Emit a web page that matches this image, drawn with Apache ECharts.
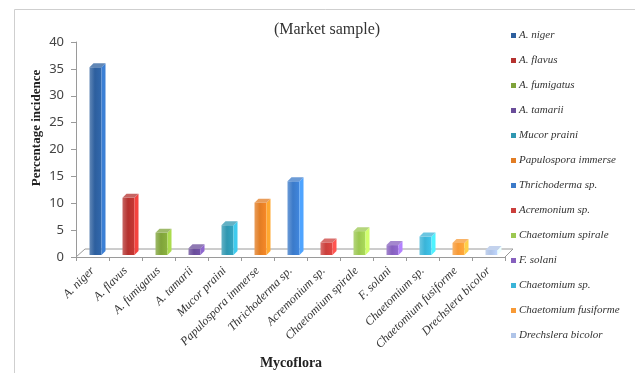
<!DOCTYPE html>
<html>
<head>
<meta charset="utf-8">
<script src="https://cdn.jsdelivr.net/npm/echarts@6/dist/echarts.min.js"></script>
<style>html,body{margin:0;padding:0;background:#fff;}#c{width:635px;height:373px;}</style>
</head>
<body>
<div id="c"></div>
<script>
const categories = ['A. niger','A. flavus','A. fumigatus','A. tamarii','Mucor praini','Papulospora immerse','Thrichoderma sp.','Acremonium sp.','Chaetomium spirale','F. solani','Chaetomium sp.','Chaetomium fusiforme','Drechslera bicolor'];
const values = [35.5, 11.2, 4.7, 1.8, 6.1, 10.3, 14.3, 2.9, 5.0, 2.4, 4.0, 2.8, 1.5];
const colors = ['#2D5F9E','#B5322F','#7FA33A','#6A4D9A','#2F97B1','#E27D24','#3B7AC9','#CB3F3C','#9CC851','#8660BE','#3AB4D8','#F89A36','#AFC4E8'];
const yTicks = [0, 5, 10, 15, 20, 25, 30, 35, 40];

const chart = echarts.init(document.getElementById('c'), null, {renderer:'canvas'});
const serif = 'Liberation Serif';

function barItem(params, api){
  const i = api.value(0), v = api.value(1);
  const p0 = api.coord([i, 0]);
  const p1 = api.coord([i, v]);
  const c = api.visual('color');
  const w = 12, d = 4;
  const x0 = p0[0] - 3;
  const yb = p0[1] - 2;
  let yt = Math.min(p1[1] + 1, yb - 2);
  const dark = echarts.color.lift(c, -0.35);
  const light = echarts.color.lift(c, 0.25);
  return {
    type:'group',
    children:[
      {type:'rect', shape:{x:x0, y:yt, width:w, height:yb-yt},
        style:{fill:new echarts.graphic.LinearGradient(0,0,1,0,[{offset:0,color:light},{offset:0.45,color:c},{offset:1,color:echarts.color.lift(c,-0.1)}])}},
      {type:'polygon', shape:{points:[[x0+w,yt],[x0+w+d,yt-d],[x0+w+d,yb-d],[x0+w,yb]]}, style:{fill:dark}},
      {type:'polygon', shape:{points:[[x0,yt],[x0+d,yt-d],[x0+w+d,yt-d],[x0+w,yt]]}, style:{fill:light}}
    ]
  };
}

function floorItem(params, api){
  const cs = params.coordSys;
  const yb = cs.y + cs.height;
  const ln = {stroke:'#9a9a9a', lineWidth:1};
  return {type:'group', silent:true, children:[
    {type:'line', shape:{x1:cs.x, y1:yb, x2:cs.x+9, y2:yb-8}, style:ln},
    {type:'line', shape:{x1:cs.x+9, y1:yb-8, x2:cs.x+cs.width+8, y2:yb-8}, style:ln},
    {type:'line', shape:{x1:cs.x+cs.width, y1:yb, x2:cs.x+cs.width+8, y2:yb-8}, style:ln}
  ]};
}

const series = [{
  type:'custom', name:'floor', data:[[0,0]], renderItem:floorItem, z:1, silent:true, legendHoverLink:false
}].concat(categories.map((name, i) => ({
  type:'custom', name:name, data:[[i, values[i]]], renderItem:barItem,
  itemStyle:{color:colors[i]}, z:2, encode:{x:0, y:1}
})));

chart.setOption({
  animation:false,
  backgroundColor:'#fff',
  grid:{left:76, right:130, top:42, bottom:116, containLabel:false},
  graphic:[
    {type:'rect', shape:{x:14.5, y:9.5, width:640, height:400}, style:{fill:'none', stroke:'#cfcfcf', lineWidth:1}, silent:true},
    {type:'text', style:{text:'(Market sample)', x:327, y:30, font:'16px "Liberation Serif"', fill:'#333', align:'center', verticalAlign:'middle'}},
    {type:'text', style:{text:'Percentage incidence', x:0, y:0, font:'bold 13px "Liberation Serif"', fill:'#222', align:'center', verticalAlign:'middle'}, x:37, y:128, rotation:Math.PI/2},
    {type:'text', style:{text:'Mycoflora', x:291, y:363, font:'bold 14px "Liberation Serif"', fill:'#222', align:'center', verticalAlign:'middle'}}
  ],
  legend:{
    orient:'vertical', left:511, top:30, padding:0, itemWidth:5, itemHeight:5, itemGap:14, icon:'rect',
    data:categories,
    textStyle:{fontFamily:serif, fontStyle:'italic', fontSize:11, color:'#333', padding:[0,0,0,-2]}
  },
  xAxis:{
    type:'category', data:categories,
    axisLine:{lineStyle:{color:'#9a9a9a'}},
    axisTick:{show:true, alignWithLabel:false, length:4, lineStyle:{color:'#9a9a9a'}},
    axisLabel:{interval:0, rotate:45, margin:12, fontFamily:serif, fontStyle:'italic', fontSize:12, color:'#333'},
    splitLine:{show:false}
  },
  yAxis:{
    type:'value', min:yTicks[0], max:yTicks[yTicks.length-1], interval:5,
    axisLine:{show:true, lineStyle:{color:'#9a9a9a'}},
    axisTick:{show:true, length:5, lineStyle:{color:'#9a9a9a'}},
    axisLabel:{margin:12, fontFamily:'Noto Sans', fontSize:13, color:'#444'},
    splitLine:{show:false}
  },
  series:series
});
</script>
</body>
</html>
